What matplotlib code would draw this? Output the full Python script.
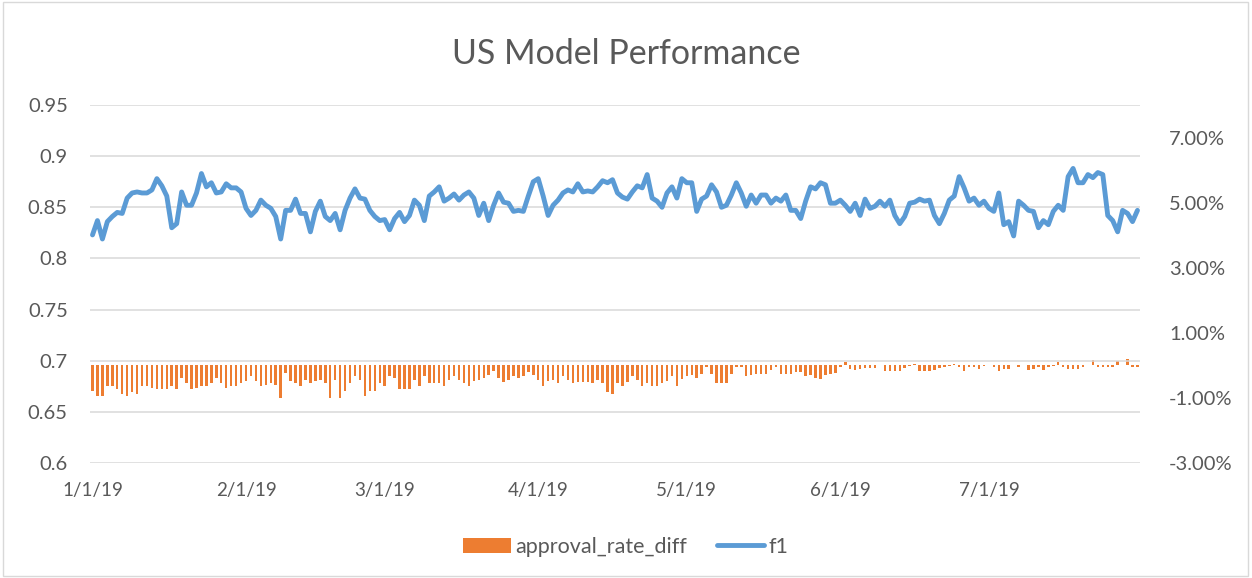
import matplotlib
matplotlib.use('Agg')
import matplotlib.pyplot as plt
import pandas as pd
from matplotlib.patches import Rectangle

dates = pd.date_range('2019-01-01', periods=212, freq='D')

f1 = [
    0.823, 0.837, 0.819, 0.836, 0.841, 0.845, 0.844, 0.859, 0.864, 0.865,
    0.864, 0.864, 0.867, 0.878, 0.871, 0.861, 0.830, 0.834, 0.865, 0.852,
    0.852, 0.864, 0.883, 0.870, 0.874, 0.864, 0.865, 0.873, 0.869, 0.869,
    0.865, 0.849, 0.842, 0.847, 0.857, 0.852, 0.849, 0.841, 0.819, 0.847,
    0.847, 0.858, 0.844, 0.844, 0.826, 0.846, 0.856, 0.841, 0.837, 0.844,
    0.828, 0.847, 0.859, 0.868, 0.859, 0.858, 0.847, 0.841, 0.837, 0.838,
    0.828, 0.839, 0.845, 0.836, 0.842, 0.857, 0.852, 0.837, 0.861, 0.865,
    0.870, 0.856, 0.859, 0.863, 0.857, 0.862, 0.865, 0.859, 0.842, 0.854,
    0.837, 0.852, 0.864, 0.855, 0.854, 0.846, 0.847, 0.846, 0.861, 0.875,
    0.878, 0.861, 0.842, 0.852, 0.857, 0.864, 0.867, 0.865, 0.873, 0.865,
    0.866, 0.865, 0.870, 0.876, 0.874, 0.877, 0.864, 0.860, 0.858, 0.865,
    0.871, 0.869, 0.882, 0.859, 0.856, 0.850, 0.864, 0.870, 0.859, 0.878,
    0.874, 0.874, 0.846, 0.858, 0.861, 0.872, 0.865, 0.850, 0.852, 0.862,
    0.874, 0.864, 0.851, 0.862, 0.854, 0.862, 0.862, 0.854, 0.859, 0.856,
    0.862, 0.847, 0.847, 0.839, 0.856, 0.870, 0.868, 0.874, 0.872, 0.854,
    0.854, 0.857, 0.852, 0.846, 0.854, 0.842, 0.858, 0.849, 0.851, 0.856,
    0.851, 0.857, 0.842, 0.834, 0.841, 0.854, 0.855, 0.858, 0.856, 0.857,
    0.842, 0.834, 0.844, 0.857, 0.861, 0.880, 0.869, 0.856, 0.859, 0.852,
    0.856, 0.849, 0.846, 0.864, 0.833, 0.836, 0.822, 0.856, 0.852, 0.847,
    0.846, 0.830, 0.837, 0.833, 0.846, 0.852, 0.847, 0.880, 0.888, 0.874,
    0.874, 0.882, 0.879, 0.884, 0.882, 0.842, 0.837, 0.826, 0.847, 0.844,
    0.836, 0.847,
]

# approval rate difference in percent
approval_rate_diff = [
    -0.80, -0.93, -0.93, -0.62, -0.62, -0.74, -0.87, -0.93, -0.83, -0.87,
    -0.62, -0.64, -0.69, -0.74, -0.74, -0.74, -0.62, -0.74, -0.39, -0.54,
    -0.74, -0.69, -0.64, -0.64, -0.54, -0.39, -0.54, -0.69, -0.62, -0.62,
    -0.54, -0.49, -0.34, -0.49, -0.62, -0.59, -0.54, -0.59, -1.00, -0.23,
    -0.49, -0.54, -0.62, -0.44, -0.54, -0.49, -0.44, -0.54, -1.00, -0.44,
    -1.00, -0.80, -0.54, -0.34, -0.44, -0.93, -0.80, -0.80, -0.54, -0.62,
    -0.34, -0.39, -0.74, -0.74, -0.74, -0.44, -0.62, -0.34, -0.54, -0.54,
    -0.54, -0.62, -0.44, -0.34, -0.44, -0.54, -0.62, -0.49, -0.44, -0.39,
    -0.29, -0.18, -0.39, -0.52, -0.44, -0.34, -0.39, -0.32, -0.21, -0.29,
    -0.44, -0.62, -0.49, -0.44, -0.54, -0.34, -0.44, -0.54, -0.52, -0.52,
    -0.52, -0.54, -0.44, -0.54, -0.83, -0.87, -0.54, -0.62, -0.52, -0.34,
    -0.44, -0.62, -0.54, -0.62, -0.62, -0.53, -0.49, -0.34, -0.62, -0.42,
    -0.34, -0.29, -0.39, -0.26, -0.05, -0.26, -0.54, -0.54, -0.54, -0.26,
    -0.05, -0.05, -0.32, -0.29, -0.26, -0.26, -0.26, -0.15, -0.05, -0.26,
    -0.26, -0.26, -0.21, -0.21, -0.32, -0.29, -0.39, -0.42, -0.29, -0.26,
    -0.23, -0.05, 0.09, -0.11, -0.15, -0.11, -0.08, -0.08, -0.08, 0.02,
    -0.18, -0.18, -0.18, -0.18, -0.08, -0.03, 0.03, -0.18, -0.18, -0.18,
    -0.13, -0.08,
    -0.05, -0.03, 0.05, -0.05, -0.18, -0.05, -0.05, -0.11, -0.03, 0.02,
    -0.05, -0.18, -0.11, -0.11, 0.02, -0.05, 0.02, -0.13, -0.11, -0.05,
    -0.13, -0.05, -0.03, 0.10, -0.05, -0.11, -0.11, -0.11, -0.05, 0.02,
    0.15, -0.05, -0.05, -0.05, -0.05, 0.14, 0.02, 0.20, -0.05, -0.05,
]
approval_rate_diff = [v / 100 for v in approval_rate_diff]

left_ticks = [0.6, 0.65, 0.7, 0.75, 0.8, 0.85, 0.9, 0.95]
left_labels = ['0.6', '0.65', '0.7', '0.75', '0.8', '0.85', '0.9', '0.95']
right_ticks = [-0.03, -0.01, 0.01, 0.03, 0.05, 0.07]
month_ticks = pd.date_range('2019-01-01', '2019-07-01', freq='MS')

plt.rcParams['font.family'] = ['Lato', 'DejaVu Sans']
grey = '#595959'
blue = '#5B9BD5'
orange = '#ED7D31'

fig = plt.figure(figsize=(12.52, 5.78), dpi=100)
ax = fig.add_axes([0.0719, 0.199, 0.8386, 0.6193])
ax2 = ax.twinx()

ax2.bar(dates, approval_rate_diff, width=0.5, color=orange, label='approval_rate_diff', zorder=2)
ax.plot(dates, f1, color=blue, lw=3.5, solid_joinstyle='round', solid_capstyle='round',
        label='f1', zorder=3)

ax.set_ylim(0.6, 0.95)
ax.set_yticks(left_ticks)
ax.set_yticklabels(left_labels)
ax2.set_ylim(-0.03, 0.08)
ax2.set_yticks(right_ticks)
ax2.set_yticklabels(['{:.2f}%'.format(t * 100) for t in right_ticks])

ax.set_xlim(dates[0] - pd.Timedelta(hours=12), dates[-1] + pd.Timedelta(hours=12))
ax.set_xticks(month_ticks)
ax.set_xticklabels(['{}/{}/{}'.format(d.month, d.day, d.year % 100) for d in month_ticks])

ax.grid(axis='y', color='#D9D9D9', lw=1.1)
ax.set_axisbelow(True)
for a in (ax, ax2):
    for s in a.spines.values():
        s.set_visible(False)
    a.tick_params(length=0, labelsize=14.5, labelcolor=grey)
ax.tick_params(axis='x', labelsize=13.5, pad=14)
ax.tick_params(axis='y', pad=16)
ax2.tick_params(axis='y', pad=21)

ax.set_zorder(ax2.get_zorder() + 1)
ax.patch.set_visible(False)

fig.suptitle('US Model Performance', y=0.935, fontsize=24.5, color=grey)

h1, l1 = ax2.get_legend_handles_labels()
h2, l2 = ax.get_legend_handles_labels()
fig.legend(h1 + h2, l1 + l2, loc='center', bbox_to_anchor=(0.5, 0.054), ncol=2,
           frameon=False, fontsize=15.5, labelcolor=grey, handlelength=2.2,
           handleheight=0.7, columnspacing=1.4, handletextpad=0.2)

fig.patches.append(Rectangle((0.002, 0.003), 0.995, 0.994, transform=fig.transFigure,
                             fill=False, edgecolor='#D9D9D9', lw=1))

fig.savefig('out.png', dpi=100)
